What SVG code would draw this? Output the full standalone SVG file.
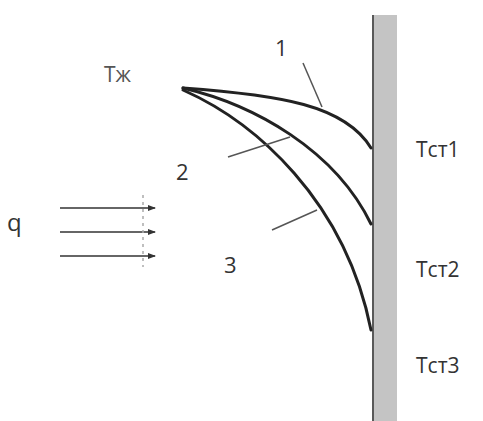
<svg xmlns="http://www.w3.org/2000/svg" width="483" height="421" viewBox="0 0 483 421">
<defs>
<style>
.t{font-family:"Open Sans","Liberation Sans",sans-serif;fill:#333;}
.c{fill:none;stroke:#222;stroke-width:3;stroke-linecap:round;}
.l{fill:none;stroke:#555;stroke-width:1.5;}
.a{stroke:#333;stroke-width:1.5;fill:none;}
</style>
<marker id="ah" markerWidth="8" markerHeight="6" refX="7" refY="3" orient="auto" markerUnits="userSpaceOnUse">
<path d="M0,0 L8,3 L0,6 Z" fill="#333"/>
</marker>
</defs>
<rect width="483" height="421" fill="#fff"/>
<g id="wall">
<rect x="374" y="15" width="23" height="406" fill="#c4c4c4"/>
<line x1="373" y1="15" x2="373" y2="421" stroke="#222" stroke-width="1.5"/>
</g>
<g id="connectors">
<path class="c" d="M183,88 C280,95 345,105 371,148"/>
<path class="c" d="M183,88 C255,105 335,150 371,224"/>
<path class="c" d="M183,90 C255,122 345,200 371,330"/>
<line class="l" x1="303" y1="63" x2="322" y2="107"/>
<line class="l" x1="228" y1="157" x2="290" y2="137"/>
<line class="l" x1="272" y1="230" x2="317" y2="210"/>
<line class="a" x1="60" y1="208" x2="155" y2="208" marker-end="url(#ah)"/>
<line class="a" x1="60" y1="232" x2="155" y2="232" marker-end="url(#ah)" stroke-width="2.5"/>
<line class="a" x1="60" y1="256" x2="155" y2="256" marker-end="url(#ah)"/>
<line x1="143" y1="195" x2="143" y2="267" stroke="#aaa" stroke-width="1.5" stroke-dasharray="3,4"/>
</g>
<g id="labels">
<text class="t" x="104" y="82" font-size="21" fill="#555" style="fill:#555">Тж</text>
<text class="t" x="275" y="56" font-size="22">1</text>
<text class="t" x="176" y="180" font-size="22">2</text>
<text class="t" x="224" y="273" font-size="22">3</text>
<text class="t" x="7" y="231" font-size="24">q</text>
<text class="t" x="416" y="157" font-size="21">Тст1</text>
<text class="t" x="416" y="277" font-size="21">Тст2</text>
<text class="t" x="416" y="373" font-size="21">Тст3</text>
</g>
</svg>
